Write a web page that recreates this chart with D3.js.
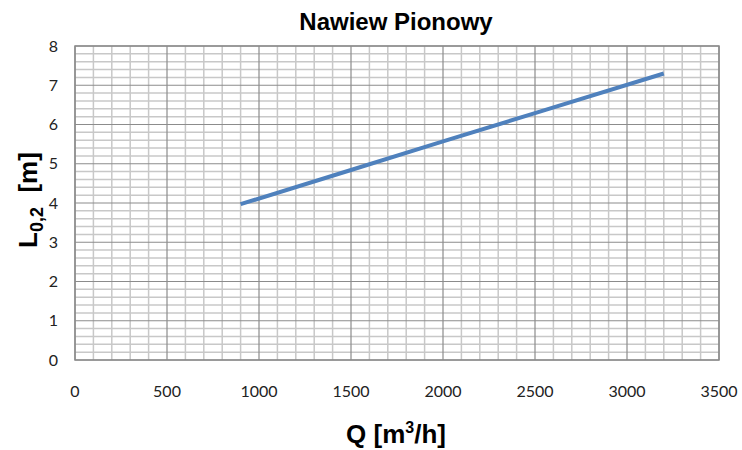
<!DOCTYPE html>
<html><head><meta charset="utf-8">
<script src="https://cdn.jsdelivr.net/npm/d3@7"></script>
<style>body{margin:0;background:#fff}svg{display:block}</style>
</head><body>
<script>
const qValues = [900, 1500, 2000, 2500, 3200];
const lValues = [3.97, 4.84, 5.57, 6.29, 7.30];
const xTicks = [0, 500, 1000, 1500, 2000, 2500, 3000, 3500];
const yTicks = [0, 1, 2, 3, 4, 5, 6, 7, 8];

const W = 742, H = 450;
const m = {left: 75, top: 46, right: 742 - 719, bottom: 450 - 360};
const svg = d3.select("body").append("svg").attr("width", W).attr("height", H);
const x = d3.scaleLinear().domain([0, 3500]).range([m.left, W - m.right]);
const y = d3.scaleLinear().domain([0, 8]).range([H - m.bottom, m.top]);

const g = svg.append("g");
// minor grid
const minorX = d3.range(0, 3501, 100).filter(v => v % 500 !== 0);
const minorY = d3.range(0, 41).map(i => i * 0.2).filter((v, i) => i % 5 !== 0);
g.selectAll(".mx").data(minorX).join("line")
  .attr("x1", d => x(d)).attr("x2", d => x(d)).attr("y1", y(0)).attr("y2", y(8))
  .attr("stroke", "#c8c8c8").attr("stroke-width", 1.5);
g.selectAll(".my").data(minorY).join("line")
  .attr("x1", x(0)).attr("x2", x(3500)).attr("y1", d => y(d)).attr("y2", d => y(d))
  .attr("stroke", "#c8c8c8").attr("stroke-width", 1.5);
// major grid
g.selectAll(".Mx").data(xTicks).join("line")
  .attr("x1", d => x(d)).attr("x2", d => x(d)).attr("y1", y(0)).attr("y2", y(8))
  .attr("stroke", "#8c8c8c").attr("stroke-width", 1.2);
g.selectAll(".My").data(yTicks).join("line")
  .attr("x1", x(0)).attr("x2", x(3500)).attr("y1", d => y(d)).attr("y2", d => y(d))
  .attr("stroke", "#8c8c8c").attr("stroke-width", 1.2);
// border
g.append("rect").attr("x", x(0)).attr("y", y(8)).attr("width", x(3500) - x(0)).attr("height", y(0) - y(8))
  .attr("fill", "none").attr("stroke", "#8c8c8c").attr("stroke-width", 1.5);

// axes labels
const font = "Lato, 'Open Sans', sans-serif";
svg.append("g").selectAll("text").data(xTicks).join("text")
  .attr("x", d => x(d)).attr("y", 397).attr("text-anchor", "middle")
  .attr("font-family", font).attr("font-size", 16).attr("fill", "#222").text(d => d);
svg.append("g").selectAll("text").data(yTicks).join("text")
  .attr("x", 58).attr("y", d => y(d) + 5.5).attr("text-anchor", "end")
  .attr("font-family", font).attr("font-size", 16).attr("fill", "#222").text(d => d);

// line
const pts = qValues.map((q, i) => [q, lValues[i]]);
svg.append("path").datum(pts)
  .attr("d", d3.line().x(d => x(d[0])).y(d => y(d[1])))
  .attr("fill", "none").attr("stroke", "#4f81bd").attr("stroke-width", 4);

// title
svg.append("text").attr("x", 396).attr("y", 30).attr("text-anchor", "middle")
  .attr("font-family", "'Liberation Sans', Arial, sans-serif").attr("font-weight", "bold")
  .attr("font-size", 24).text("Nawiew Pionowy");
// x label
const xl = svg.append("text").attr("x", 396).attr("y", 443).attr("text-anchor", "middle")
  .attr("font-family", "'Liberation Sans', Arial, sans-serif").attr("font-weight", "bold")
  .attr("font-size", 26);
xl.append("tspan").text("Q [m");
xl.append("tspan").attr("font-size", 16).attr("dy", -10).text("3");
xl.append("tspan").attr("dy", 10).text("/h]");
// y label
const yl = svg.append("text").attr("transform", "translate(37,200) rotate(-90)").attr("text-anchor", "middle")
  .attr("font-family", "'Liberation Sans', Arial, sans-serif").attr("font-weight", "bold")
  .attr("font-size", 26);
yl.append("tspan").text("L");
yl.append("tspan").attr("font-size", 18).attr("dy", 6).text("0,2");
yl.append("tspan").attr("dy", -6).text("\u00a0\u00a0[m]");
</script>
</body></html>
